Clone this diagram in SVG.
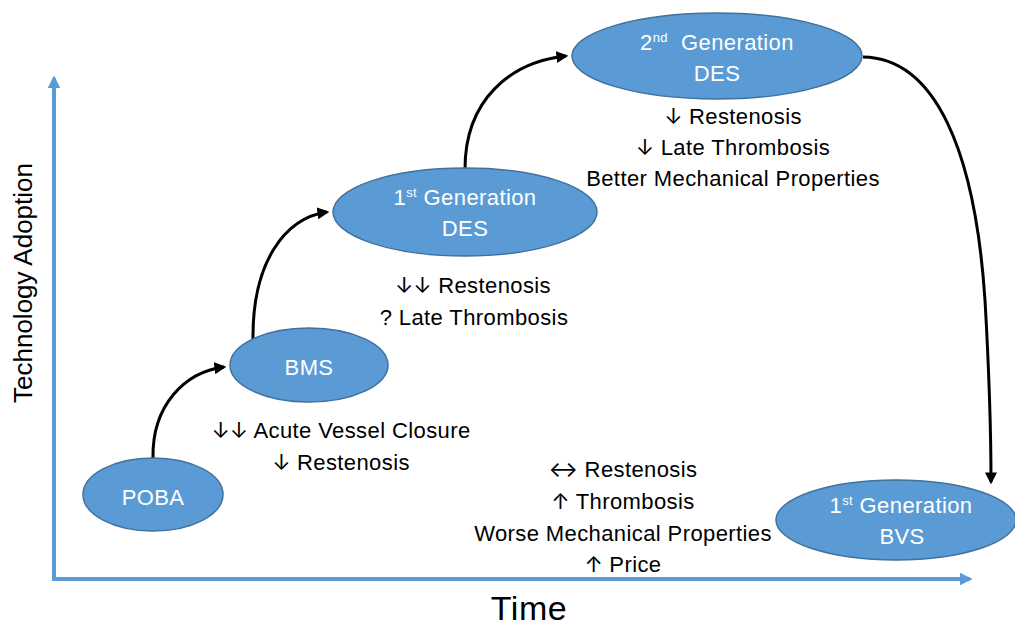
<svg xmlns="http://www.w3.org/2000/svg" width="1015" height="626" viewBox="0 0 1015 626">
<style>
.node ellipse{fill:#5b9bd5;stroke:#41719c;stroke-width:1.5}
.nl{font-family:"Liberation Sans",Arial,sans-serif;font-size:22px;letter-spacing:0.4px;fill:#ffffff;text-anchor:middle}
.sup{font-size:13px}
.t{font-family:"Liberation Sans",Arial,sans-serif;font-size:22px;letter-spacing:0.4px;fill:#000000;text-anchor:middle}
.ar{font-family:Inter,"DejaVu Sans",sans-serif;font-size:22px;letter-spacing:0}
.axis{stroke:#5b9bd5;stroke-width:4;fill:none}
.conn{stroke:#000000;stroke-width:3;fill:none}
</style>
<defs>
<marker id="ah" viewBox="0 0 10 10" refX="8" refY="5" markerWidth="4" markerHeight="4" orient="auto" markerUnits="strokeWidth">
<path d="M0,0 L10,5 L0,10 z" fill="#000000"/>
</marker>
<marker id="axh" viewBox="0 0 10 10" refX="8" refY="5" markerWidth="3.2" markerHeight="3.2" orient="auto" markerUnits="strokeWidth">
<path d="M0,0 L10,5 L0,10 z" fill="#5b9bd5"/>
</marker>
</defs>
<rect width="1015" height="626" fill="#ffffff"/>
<g id="axes">
<path class="axis" d="M54,581 L54,78" marker-end="url(#axh)"/>
<path class="axis" d="M52,579 L970,579" marker-end="url(#axh)"/>
<text x="0" y="0" transform="translate(32,283) rotate(-90)" font-family="'Liberation Sans',Arial,sans-serif" font-size="26" text-anchor="middle" fill="#000">Technology Adoption</text>
<text x="529" y="620" font-family="'Liberation Sans',Arial,sans-serif" font-size="34" letter-spacing="0.5" text-anchor="middle" fill="#000">Time</text>
</g>
<g id="connectors">
<path class="conn" d="M153,458 C152,405 185,372 224,367" marker-end="url(#ah)"/>
<path class="conn" d="M253,340 C252,262 285,218 327,212" marker-end="url(#ah)"/>
<path class="conn" d="M465,169 C465,100 510,62 566,56" marker-end="url(#ah)"/>
<path class="conn" stroke-width="2.5" d="M863,57 C935,58 975,150 985,300 C989,370 991,430 991,482" marker-end="url(#ah)"/>
</g>
<g id="poba" class="node">
<ellipse cx="153" cy="494.5" rx="70" ry="36.5"/>
<text class="nl" x="153" y="505">POBA</text>
</g>
<g id="bms" class="node">
<ellipse cx="309" cy="365" rx="79" ry="37"/>
<text class="nl" x="309" y="375">BMS</text>
</g>
<g id="des1" class="node">
<ellipse cx="465" cy="212" rx="132" ry="44"/>
<text class="nl" x="465" y="205">1<tspan class="sup" dy="-8">st</tspan><tspan dy="8"> Generation</tspan></text>
<text class="nl" x="465" y="236">DES</text>
</g>
<g id="des2" class="node">
<ellipse cx="717" cy="56" rx="145" ry="43"/>
<text class="nl" x="717" y="50" xml:space="preserve">2<tspan class="sup" dy="-8">nd</tspan><tspan dy="8">  Generation</tspan></text>
<text class="nl" x="717" y="81">DES</text>
</g>
<g id="bvs" class="node">
<ellipse cx="896" cy="520" rx="120" ry="40"/>
<text class="nl" x="901" y="513">1<tspan class="sup" dy="-8">st</tspan><tspan dy="8"> Generation</tspan></text>
<text class="nl" x="902" y="544">BVS</text>
</g>
<g id="notes-des2">
<text class="t" x="733" y="124"><tspan class="ar">↓</tspan> Restenosis</text>
<text class="t" x="733" y="155"><tspan class="ar">↓</tspan> Late Thrombosis</text>
<text class="t" x="733" y="186">Better Mechanical Properties</text>
</g>
<g id="notes-des1">
<text class="t" x="473" y="293"><tspan class="ar">↓↓</tspan> Restenosis</text>
<text class="t" x="474" y="325">? Late Thrombosis</text>
</g>
<g id="notes-bms">
<text class="t" x="341" y="438"><tspan class="ar">↓↓</tspan> Acute Vessel Closure</text>
<text class="t" x="341" y="470"><tspan class="ar">↓</tspan> Restenosis</text>
</g>
<g id="notes-bvs">
<text class="t" x="623" y="477"><tspan class="ar">↔</tspan> Restenosis</text>
<text class="t" x="623" y="509"><tspan class="ar">↑</tspan> Thrombosis</text>
<text class="t" x="623" y="541">Worse Mechanical Properties</text>
<text class="t" x="623" y="572"><tspan class="ar">↑</tspan> Price</text>
</g>
</svg>
